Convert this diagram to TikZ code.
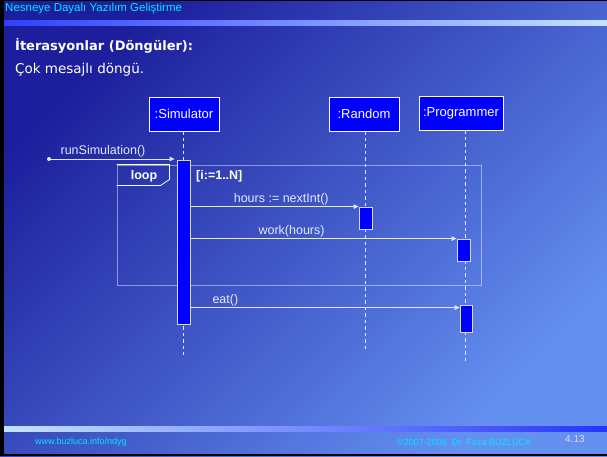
\documentclass[tikz,border=0pt]{standalone}
\usepackage{fontspec}
\setmainfont{Liberation Sans}
\newfontfamily\titlefont{DejaVu Sans}
\usetikzlibrary{positioning,arrows.meta,calc}

\definecolor{fundoA}{RGB}{28,30,156}
\definecolor{fundoB}{RGB}{74,100,206}
\definecolor{fundoD}{RGB}{100,144,240}
\definecolor{cabeca}{RGB}{0,232,255}
\definecolor{azulobj}{RGB}{0,0,255}
\definecolor{barraA}{RGB}{48,64,255}
\definecolor{barraB}{RGB}{196,228,255}
\definecolor{linha}{RGB}{225,232,255}

\tikzset{
  objeto/.style={draw=white, fill=azulobj, text=white, line width=0.8pt,
    font=\fontsize{13}{15}\selectfont, inner sep=0pt, minimum height=34pt},
  ativ/.style={draw=white!85!blue, fill=azulobj, line width=0.8pt,
    minimum width=13pt, inner sep=0pt},
  vida/.style={linha, line width=0.7pt, dash pattern=on 3.5pt off 3pt},
  msg/.style={linha, line width=0.7pt, -{Triangle[length=5pt,width=4.5pt]}},
  rotulo/.style={text=linha, font=\fontsize{12.5}{14}\selectfont, inner sep=1.5pt},
  rodape/.style={text=cabeca, font=\fontsize{9}{10}\selectfont, inner sep=0pt, anchor=west},
}

\begin{document}
\begin{tikzpicture}[x=1pt,y=-1pt]
  % Fundo do slide
  \useasboundingbox (0,0) rectangle (607,456);
  \shade[bottom color=fundoA, middle color=fundoB, top color=fundoD, shading angle=-135]
    (0,0) rectangle (607,456);
  \fill[black] (0,0) rectangle (4,456);
  \fill[black] (0,0) rectangle (607,1);
  \fill[black] (0,454) rectangle (607,456);
  % Barras do topo e do rodape
  \shade[left color=barraA, right color=barraB] (4,20) rectangle (607,25);
  \shade[left color=barraB, right color=barraA!80!blue] (4,426) rectangle (607,431);

  % Cabecalho
  \node[anchor=west, inner sep=0pt, text=cabeca, font=\fontsize{11.5}{13}\selectfont]
    (cab) at (5,9) {Nesneye Dayalı Yazılım Geliştirme};
  \node[anchor=west, inner sep=0pt, text=white, font=\titlefont\bfseries\fontsize{13}{15}\selectfont]
    (tit) at (15,46) {İterasyonlar (Döngüler):};
  \node[anchor=west, inner sep=0pt, text=white, font=\titlefont\fontsize{13.5}{15}\selectfont]
    (sub) at (15,70) {Çok mesajlı döngü.};

  % Objetos
  \node[objeto, minimum width=70pt] (sim)  at (184,114) {:Simulator};
  \node[objeto, minimum width=70pt] (rnd)  at (364,114) {:Random};
  \node[objeto, minimum width=84pt] (prog) at (461,113) {:Programmer};

  % Linhas de vida
  \coordinate (fimsim)  at (183.5,355);
  \coordinate (fimrnd)  at (365.5,350);
  \coordinate (fimprog) at (465,362);
  \draw[vida] (sim.south -| fimsim) -- (fimsim);
  \draw[vida] (rnd.south -| fimrnd) -- (fimrnd);
  \draw[vida] (prog.south -| fimprog) -- (fimprog);

  % Fragmento loop
  \node[draw=white, draw opacity=0.45, line width=1pt, minimum width=364pt,
    minimum height=120pt, inner sep=0pt] (laco) at (299,225) {};
  \draw[white, line width=0.8pt] (laco.north west) -- ++(53,0) -- ++(0,15)
    -- ++(-9,6) -- ++(-44,0);
  \node[text=white, font=\bfseries\fontsize{12.5}{14}\selectfont, inner sep=0pt]
    (loop) at (144,176) {loop};
  \node[anchor=west, text=white, font=\bfseries\fontsize{12.5}{14}\selectfont, inner sep=0pt]
    (guarda) at (196,176) {[i:=1..N]};

  % Ativacoes
  \node[ativ, minimum height=164pt] (simact) at (183.5,242) {};
  \node[ativ, minimum height=22pt]  (rndact) at (365.5,218) {};
  \node[ativ, minimum height=22pt]  (progA)  at (463.5,250) {};
  \node[ativ, minimum height=27pt, minimum width=12pt] (progB) at (466,318.5) {};

  % Mensagens
  \coordinate (inicio) at (49,159);
  \fill[linha] (inicio) circle (2pt);
  \draw[msg] (inicio) -- ([xshift=-2pt]simact.north west |- inicio)
    node[rotulo, above, pos=0.43] (lblrun) {runSimulation()};
  \draw[msg] (simact.east |- rndact.north) -- (rndact.north west)
    node[rotulo, above, pos=0.54] (lblhours) {hours := nextInt()};
  \draw[msg] (simact.east |- progA.north) -- (progA.north west)
    node[rotulo, above, pos=0.38] (lblwork) {work(hours)};
  \draw[msg] ([yshift=-3pt]simact.east |- progB.north) -- ([yshift=-3pt]progB.north west)
    node[rotulo, above, pos=0.13] (lbleat) {eat()};

  % Rodape
  \node[rodape] (site) at (35,442) {www.buzluca.info/ndyg};
  \node[rodape] (autor) at (397,442) {©2007-2008\ \ Dr. Feza BUZLUCA};
  \node[anchor=west, inner sep=0pt, text=white!85!blue, font=\fontsize{10}{12}\selectfont]
    (pag) at (565,439) {4.13};
\end{tikzpicture}
\end{document}
